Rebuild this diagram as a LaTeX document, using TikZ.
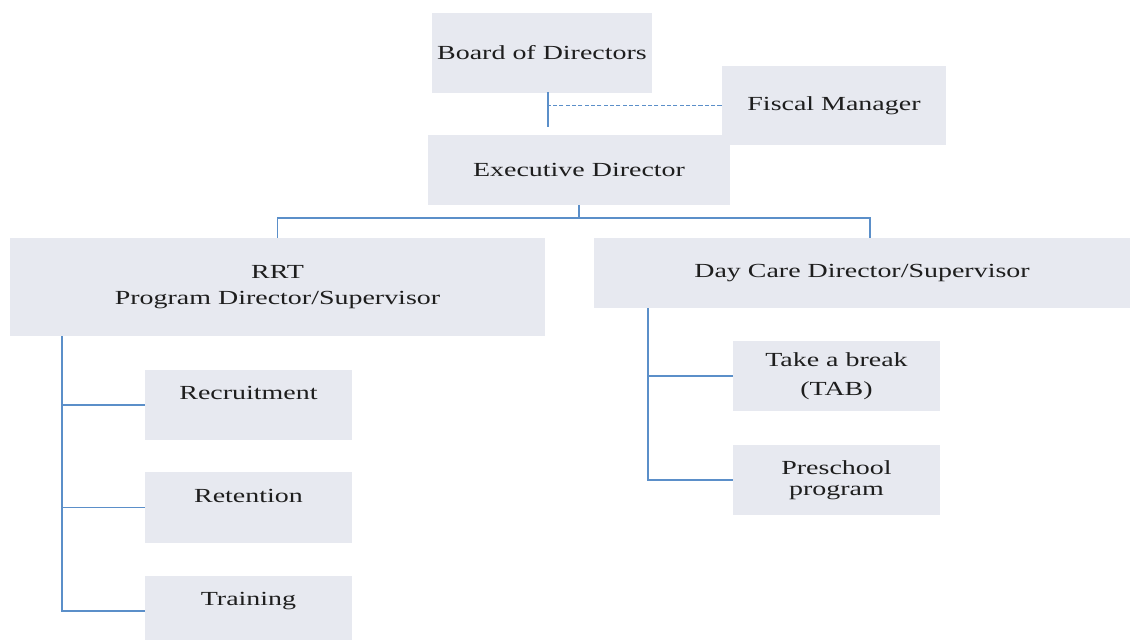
\documentclass[tikz,border=0pt]{standalone}
\usepackage{fontspec}
\setmainfont{Liberation Serif}[FakeStretch=1.4]
\usepackage{tikz}
\definecolor{orgbox}{HTML}{E7E9F0}
\definecolor{orgline}{HTML}{5B8FC9}
\definecolor{orgink}{HTML}{1E1E1E}

\tikzset{
  unit/.style={fill=orgbox, text=orgink, align=center, inner sep=0pt,
    font=\fontsize{14.2}{17}\selectfont},
  link/.style={orgline, line width=1.2pt},
}

\begin{document}
\begin{tikzpicture}[x=0.025cm, y=-0.025cm]
  \useasboundingbox (0,0) rectangle (1131,639);

  % top of the chart
  \node[unit, minimum width=5.5cm, minimum height=1.975cm] (board) at (542,53) {Board of Directors};
  \node[unit, minimum width=5.6cm, minimum height=1.975cm] (fiscal) at (834,105.5) {Fiscal Manager};
  \node[unit, minimum width=7.55cm, minimum height=1.75cm] (exec) at (579,170) {Executive Director};

  % the two programs
  \node[unit, minimum width=13.375cm, minimum height=2.45cm] (rrt) at (277.5,287) {RRT\\[1pt]Program Director/Supervisor};
  \node[unit, minimum width=13.4cm, minimum height=1.75cm] (daycare) at (862,273) {Day Care Director/Supervisor};

  % RRT units
  \node[unit, minimum width=5.175cm, minimum height=1.75cm] (recruit) at (248.5,405) {Recruitment\\\mbox{}};
  \node[unit, minimum width=5.175cm, minimum height=1.775cm] (retain) at (248.5,507.5) {Retention\\\mbox{}};
  \node[unit, minimum width=5.175cm, minimum height=1.75cm] (train) at (248.5,611) {Training\\\mbox{}};

  % day care units
  \node[unit, minimum width=5.175cm, minimum height=1.75cm] (tab) at (836.5,376) {Take a break\\[4pt](TAB)};
  \node[unit, minimum width=5.175cm, minimum height=1.75cm] (preschool) at (836.5,480) {Preschool\\[-2pt]program};

  \coordinate (stem) at (548,92);
  \coordinate (spineL) at (62,0);
  \coordinate (spineR) at (648,0);

  % board -> executive, fiscal on the side
  \draw[link, shorten >=0.2cm] (stem) -- (stem |- exec.north);
  \draw[link, line width=0.8pt, dash pattern=on 3pt off 1.5pt] (fiscal.west) -- (fiscal.west -| stem);

  % executive -> programs
  \draw[link] (exec.south) -- ++(0,13) -| (rrt.north);
  \draw[link] (exec.south) ++(0,13) -| ([xshift=0.2cm]daycare.north);

  % program trees
  \draw[link] (rrt.south -| spineL) |- (train.west);
  \draw[link] (spineL |- recruit.west) -- (recruit.west);
  \draw[link] (spineL |- retain.west) -- (retain.west);
  \draw[link] (daycare.south -| spineR) |- (preschool.west);
  \draw[link] (spineR |- tab.west) -- (tab.west);
\end{tikzpicture}
\end{document}
